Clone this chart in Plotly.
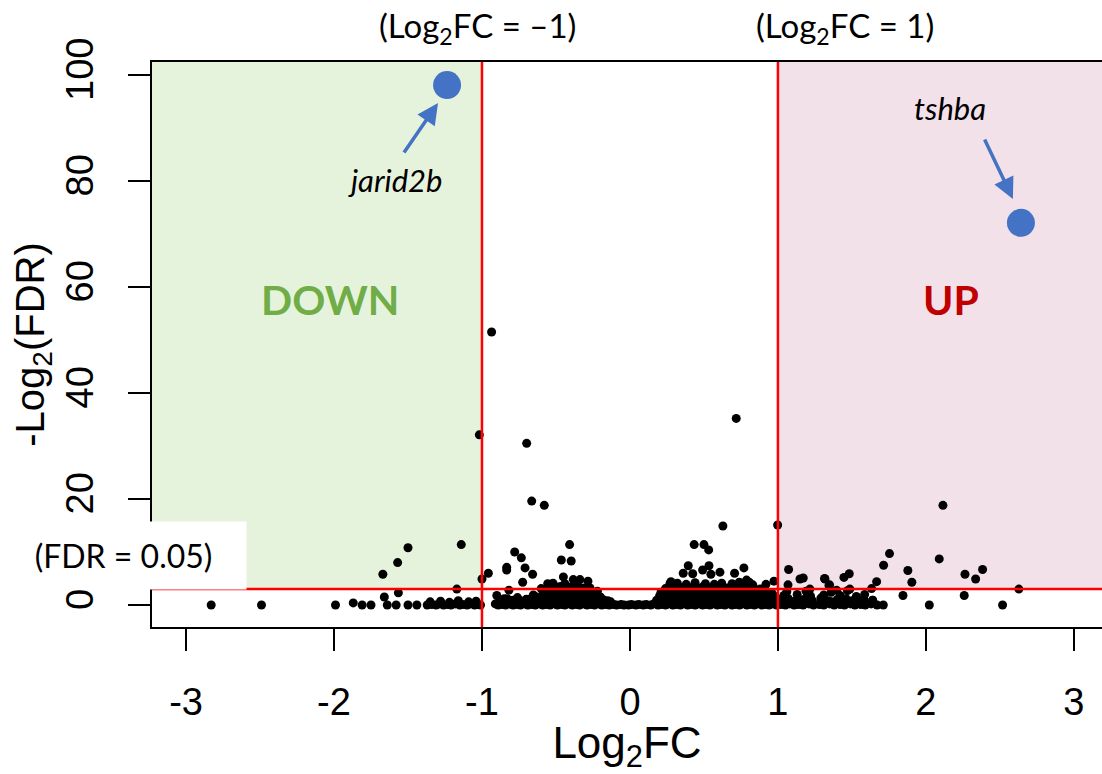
import plotly.graph_objects as go

# ---------------- data ----------------
# scattered / outlying genes
scat_x = [-2.83, -2.49, -1.99, -1.87, -1.81, -1.75, -1.66, -1.67, -1.57, -1.50, -1.565, -1.64, -1.58,
          -1.50, -1.44, -1.14, -1.17, -1.00, -0.957, -0.935, -1.018, -0.698, -0.664, -0.579, 0.718,
          0.628, 0.998, 2.115, 2.09, 1.754, 1.714, 1.878, 1.905, 1.845, 1.667, 1.633, 1.586, 2.264,
          2.336, 2.383, 2.259, 2.628, 2.023, 2.518, 1.712, 1.072, 1.068, 1.149, 1.171, 1.315, 1.345,
          1.446, 1.482, 1.396, 1.486, 1.216, 1.318, 1.349]
scat_y = [0.0, 0.0, 0.0, 0.4, 0.0, 0.0, 1.5, 5.8, 8.0, 10.8, 2.3, 0.0, 0.0,
          0.0, 0.0, 11.4, 3.0, 4.9, 6.0, 51.5, 32.1, 30.5, 19.6, 18.8, 35.2,
          14.9, 15.1, 18.8, 8.7, 9.7, 7.5, 6.5, 4.3, 1.8, 4.4, 3.1, 2.0, 5.8,
          4.9, 6.7, 1.8, 3.0, 0.0, 0.0, 0.0, 6.7, 3.8, 4.9, 5.1, 5.0, 3.7,
          5.2, 5.9, 2.8, 3.0, 3.0, 4.9, 3.8]

# genes just above the FDR threshold near the centre
near_x = [-0.779, -0.734, -0.833, -0.833, -0.709, -0.658, -0.725, -0.818, -0.408, -0.464, -0.397,
          -0.45, -0.556, -0.383, -0.338, -0.284, -0.653,
          0.434, 0.50, 0.532, 0.394, 0.36, 0.534, 0.491, 0.424, 0.547, 0.608, 0.707, 0.77, 0.277,
          0.788, 0.806, 0.739, 0.919, 0.973]
near_y = [10.0, 8.9, 7.1, 6.6, 7.0, 5.8, 4.3, 2.8, 11.4, 8.5, 8.3,
          5.3, 4.0, 4.8, 4.8, 4.5, 1.9,
          11.4, 11.4, 10.4, 7.4, 6.0, 7.4, 6.6, 5.9, 5.8, 6.2, 6.0, 7.0, 4.4,
          4.7, 4.3, 4.3, 3.9, 4.5]

# baseline (FDR ~ 1) genes
base_x = [-1.37, -1.34, -1.31, -1.29, -1.26, -1.23, -1.21, -1.18, -1.15, -1.13, -1.10, -1.08, -1.05,
          -1.03, -1.01, -0.91, -0.89, -0.86, -0.84, -0.81, -0.79, -0.76, -0.74, -0.71, -0.69, -0.66,
          -0.64, -0.61, -0.59, -0.56, -0.54, -0.51, -0.49, -0.46, -0.44, -0.41, -0.39, -0.36, -0.34,
          -0.31, -0.29, -0.26, -0.24, -0.21, -0.19, -0.16, -0.14, -0.11, -0.09, -0.06, -0.04, -0.01,
          0.01, 0.04, 0.06, 0.09, 0.11, 0.14, 0.16, 0.19, 0.21, 0.24, 0.26, 0.29, 0.31, 0.34, 0.36,
          0.39, 0.41, 0.44, 0.46, 0.49, 0.51, 0.54, 0.56, 0.59, 0.61, 0.64, 0.66, 0.69, 0.71, 0.74,
          0.76, 0.79, 0.81, 0.84, 0.86, 0.89, 0.91, 0.94, 0.96, 0.99, 1.02, 1.05, 1.08, 1.11, 1.14,
          1.17, 1.21, 1.24, 1.28, 1.31, 1.35, 1.38, 1.42, 1.45, 1.49, 1.52, 1.56, 1.59, 1.63, 1.67,
          -1.35, -1.28, -1.22, -1.16, -1.09, -1.04, -0.88, -0.83, -0.78, -0.73, -0.68, -0.63,
          1.03, 1.09, 1.15, 1.22, 1.29, 1.36, 1.43, 1.50, 1.57, 1.64]
base_y = [0.0, 0.1, 0.0, 0.2, 0.0, 0.1, 0.0, 0.2, 0.0, 0.1, 0.0, 0.2, 0.0,
          0.1, 0.0, 0.2, 0.0, 0.1, 0.0, 0.2, 0.0, 0.1, 0.0, 0.2, 0.0, 0.1,
          0.0, 0.2, 0.0, 0.1, 0.0, 0.2, 0.0, 0.1, 0.0, 0.2, 0.0, 0.1, 0.0,
          0.2, 0.0, 0.1, 0.0, 0.2, 0.0, 0.1, 0.0, 0.1, 0.0, 0.1, 0.0, 0.0,
          0.1, 0.0, 0.1, 0.0, 0.1, 0.0, 0.2, 0.0, 0.1, 0.0, 0.2, 0.0, 0.1, 0.0, 0.2,
          0.0, 0.1, 0.0, 0.2, 0.0, 0.1, 0.0, 0.2, 0.0, 0.1, 0.0, 0.2, 0.0, 0.1, 0.0,
          0.2, 0.0, 0.1, 0.0, 0.2, 0.0, 0.1, 0.0, 0.2, 0.0, 0.1, 0.0, 0.2, 0.0, 0.1,
          0.0, 0.2, 0.0, 0.1, 0.0, 0.2, 0.0, 0.1, 0.0, 0.2, 0.0, 0.1, 0.0, 0.2, 0.0,
          0.6, 0.7, 0.5, 0.8, 0.6, 0.7, 0.7, 1.2, 0.9, 0.7, 1.1, 0.5,
          0.8, 0.6, 1.0, 0.7, 0.9, 0.6, 1.1, 0.8, 0.6, 0.9]

# left hump (down-regulated, below threshold)
lh_x = [-0.88, -0.85, -0.82, -0.79, -0.76, -0.73, -0.70, -0.67, -0.64, -0.61, -0.90,
        -0.60, -0.57, -0.54, -0.51, -0.48, -0.45, -0.42, -0.39, -0.36, -0.33, -0.30, -0.27, -0.24,
        -0.21, -0.18, -0.15,
        -0.59, -0.56, -0.53, -0.50, -0.47, -0.44, -0.41, -0.38, -0.35, -0.32, -0.29, -0.26, -0.23,
        -0.20,
        -0.58, -0.55, -0.52, -0.49, -0.46, -0.43, -0.40, -0.37, -0.34, -0.31, -0.28, -0.25,
        -0.55, -0.51, -0.47, -0.43, -0.39, -0.35, -0.31,
        -0.60, -0.52, -0.44, -0.36, -0.27, -0.22, -0.13]
lh_y = [0.7, 1.2, 0.6, 0.9, 1.4, 0.7, 1.1, 0.5, 1.6, 1.0, 1.8,
        1.2, 1.3, 1.1, 1.2, 1.3, 1.2, 1.1, 1.3, 1.2, 1.1, 1.2, 1.3, 1.1,
        1.2, 1.0, 0.8,
        2.0, 2.1, 1.9, 2.0, 2.2, 2.0, 1.9, 2.1, 2.0, 2.1, 1.9, 2.0, 1.8,
        1.5,
        2.6, 2.8, 2.9, 2.7, 2.8, 3.0, 2.8, 2.9, 2.7, 2.8, 2.6, 2.3,
        3.4, 3.6, 3.5, 3.6, 3.4, 3.5, 3.2,
        3.1, 4.1, 4.0, 4.2, 3.2, 2.6, 0.6]

# right hump (up-regulated, below threshold)
rh_x = [0.18, 0.21, 0.24, 0.27, 0.30, 0.33, 0.36, 0.39, 0.42, 0.45, 0.48, 0.51, 0.54, 0.57,
        0.60, 0.63, 0.66, 0.69, 0.72, 0.75, 0.78, 0.81, 0.84, 0.87, 0.90, 0.93, 0.96, 0.99,
        0.20, 0.23, 0.26, 0.29, 0.32, 0.35, 0.38, 0.41, 0.44, 0.47, 0.50, 0.53, 0.56, 0.59,
        0.62, 0.65, 0.68, 0.71, 0.74, 0.77, 0.80, 0.83, 0.86, 0.89, 0.92, 0.95, 0.98,
        0.21, 0.24, 0.27, 0.30, 0.33, 0.36, 0.39, 0.42, 0.45, 0.48, 0.51, 0.54, 0.57, 0.60,
        0.63, 0.66, 0.69, 0.72, 0.75, 0.78, 0.81, 0.84, 0.87, 0.90, 0.93, 0.96,
        0.24, 0.28, 0.31, 0.35, 0.38, 0.42, 0.45, 0.49, 0.52, 0.56, 0.59, 0.63, 0.66, 0.70,
        0.73, 0.77, 0.80, 0.84, 0.88,
        0.27, 0.32, 0.38, 0.44, 0.51, 0.57, 0.62, 0.69, 0.75, 0.83,
        1.02, 1.07, 1.12, 1.18, 1.23, 1.29, 1.34, 1.40, 1.46, 1.52, 1.58, 1.64,
        1.04, 1.13, 1.22, 1.31, 1.42, 1.53, 1.06, 1.19, 1.36, 1.47]
rh_y = [0.9, 1.1, 1.0, 1.2, 0.9, 1.1, 1.0, 1.2, 0.9, 1.1, 1.0, 1.2, 0.9, 1.1,
        1.0, 1.2, 0.9, 1.1, 1.0, 1.2, 0.9, 1.1, 1.0, 1.2, 0.9, 1.1, 1.0, 1.2,
        1.7, 1.9, 1.8, 2.0, 1.7, 1.9, 1.8, 2.0, 1.7, 1.9, 1.8, 2.0, 1.7, 1.9,
        1.8, 2.0, 1.7, 1.9, 1.8, 2.0, 1.7, 1.9, 1.8, 2.0, 1.7, 1.9, 1.6,
        2.4, 2.6, 2.7, 2.5, 2.7, 2.6, 2.5, 2.7, 2.6, 2.5, 2.7, 2.6, 2.5, 2.7,
        2.6, 2.5, 2.7, 2.6, 2.5, 2.7, 2.6, 2.5, 2.7, 2.4, 2.3, 2.2,
        3.1, 3.3, 3.4, 3.2, 3.4, 3.3, 3.2, 3.4, 3.3, 3.2, 3.4, 3.3, 3.2, 3.4,
        3.3, 3.2, 3.4, 3.1, 3.0,
        4.0, 4.1, 3.9, 4.2, 4.0, 3.9, 4.1, 4.0, 3.9, 3.8,
        1.0, 1.2, 0.8, 1.1, 0.9, 1.3, 0.8, 1.0, 1.2, 0.7, 1.1, 0.9,
        1.8, 2.0, 1.7, 1.9, 1.8, 1.6, 2.5, 2.6, 2.4, 2.7]

# highlighted genes
gene_names = ["jarid2b", "tshba"]
gene_x = [-1.236, 2.642]
gene_y = [98.1, 72.1]

# thresholds
fc_thr = 1.0
fdr_thr = 3.0

x_ticks = [-3, -2, -1, 0, 1, 2, 3]
y_ticks = [0, 20, 40, 60, 80, 100]
x_range = [-3.23, 3.19]
y_range = [-4.15, 102.45]

# ---------------- figure ----------------
all_x = scat_x + near_x + base_x + lh_x + rh_x
all_y = scat_y + near_y + base_y + lh_y + rh_y

TICKFONT = "Liberation Sans Narrow, Arial Narrow, Liberation Sans, Arial, sans-serif"
ANNFONT = "Lato, Open Sans, sans-serif"

fig = go.Figure()
fig.add_trace(go.Scatter(x=all_x, y=all_y, mode="markers",
                         marker=dict(color="black", size=9, line=dict(width=0)),
                         hoverinfo="x+y", showlegend=False))
fig.add_trace(go.Scatter(x=gene_x, y=gene_y, mode="markers", text=gene_names,
                         marker=dict(color="#4472C4", size=28, line=dict(width=0)),
                         showlegend=False))

shapes = [
    # DOWN region
    dict(type="rect", xref="x", yref="y", x0=x_range[0], x1=-fc_thr, y0=fdr_thr, y1=y_range[1],
         fillcolor="#E6F3DC", line=dict(width=0), layer="below"),
    # UP region
    dict(type="rect", xref="x", yref="y", x0=fc_thr, x1=x_range[1], y0=fdr_thr, y1=y_range[1],
         fillcolor="#F3E1EA", line=dict(width=0), layer="below"),
    # threshold lines
    dict(type="line", xref="x", yref="paper", x0=-fc_thr, x1=-fc_thr, y0=0, y1=1,
         line=dict(color="#FF0000", width=2.5), layer="above"),
    dict(type="line", xref="x", yref="paper", x0=fc_thr, x1=fc_thr, y0=0, y1=1,
         line=dict(color="#FF0000", width=2.5), layer="above"),
    dict(type="line", xref="paper", yref="y", x0=0, x1=1, y0=fdr_thr, y1=fdr_thr,
         line=dict(color="#FF0000", width=2.5), layer="above"),
]
fig.update_layout(shapes=shapes)

annotations = [
    dict(text="(Log<sub>2</sub>FC = \u20131)", xref="x", yref="paper", x=-1.03, y=1.0,
         yanchor="bottom", yshift=10, showarrow=False, font=dict(family=ANNFONT, size=33, color="black")),
    dict(text="(Log<sub>2</sub>FC = 1)", xref="x", yref="paper", x=1.45, y=1.0,
         yanchor="bottom", yshift=10, showarrow=False, font=dict(family=ANNFONT, size=33, color="black")),
    dict(text="(FDR = 0.05)", xref="paper", yref="y", x=-152 / 950, y=9.25, xanchor="left",
         yanchor="middle", showarrow=False, bgcolor="white", width=245, height=67, borderpad=0,
         align="center", font=dict(family=ANNFONT, size=32, color="black")),
    dict(text="<b>DOWN</b>", xref="x", yref="y", x=-2.03, y=57.7, showarrow=False,
         font=dict(family=ANNFONT, size=41, color="#70AD47")),
    dict(text="<b>UP</b>", xref="x", yref="y", x=2.17, y=57.7, showarrow=False,
         font=dict(family=ANNFONT, size=41, color="#C00000")),
    dict(text="<i>jarid2b</i>", xref="x", yref="y", x=-1.59, y=80.2, showarrow=False,
         font=dict(family=ANNFONT, size=31, color="black")),
    dict(text="<i>tshba</i>", xref="x", yref="y", x=2.16, y=93.8, showarrow=False,
         font=dict(family=ANNFONT, size=31, color="black")),
    # arrows
    dict(text="", xref="x", yref="y", x=-1.297, y=94.7, axref="x", ayref="y", ax=-1.534, ay=85.1,
         showarrow=True, arrowhead=2, arrowsize=1.2, arrowwidth=3.5, arrowcolor="#4472C4"),
    dict(text="", xref="x", yref="y", x=2.588, y=76.6, axref="x", ayref="y", ax=2.392, ay=88.1,
         showarrow=True, arrowhead=2, arrowsize=1.2, arrowwidth=3.5, arrowcolor="#4472C4"),
]
fig.update_layout(annotations=annotations)

fig.update_xaxes(range=x_range, tickvals=x_ticks, ticktext=[str(v) for v in x_ticks],
                 showgrid=False, zeroline=False, showline=True, linecolor="black", linewidth=2,
                 mirror=True, ticks="outside", ticklen=22, tickwidth=1.5, tickcolor="black",
                 tickfont=dict(family=TICKFONT, size=38, color="black"), ticklabelstandoff=18,
                 title=dict(text="Log<sub>2</sub>FC", font=dict(family=TICKFONT, size=44, color="black"),
                            standoff=0))
fig.update_yaxes(range=y_range, tickvals=y_ticks, ticktext=[str(v) for v in y_ticks],
                 showgrid=False, zeroline=False, showline=True, linecolor="black", linewidth=2,
                 ticks="outside", ticklen=22, tickwidth=1.5, tickcolor="black", tickangle=-90,
                 tickfont=dict(family=TICKFONT, size=38, color="black"), ticklabelstandoff=20,
                 title=dict(text="-Log<sub>2</sub>(FDR)", font=dict(family=TICKFONT, size=40, color="black"),
                            standoff=2))

fig.update_layout(width=1102, height=774, margin=dict(l=152, r=0, t=62, b=147),
                  plot_bgcolor="white", paper_bgcolor="white")

fig.write_html("out.html")
